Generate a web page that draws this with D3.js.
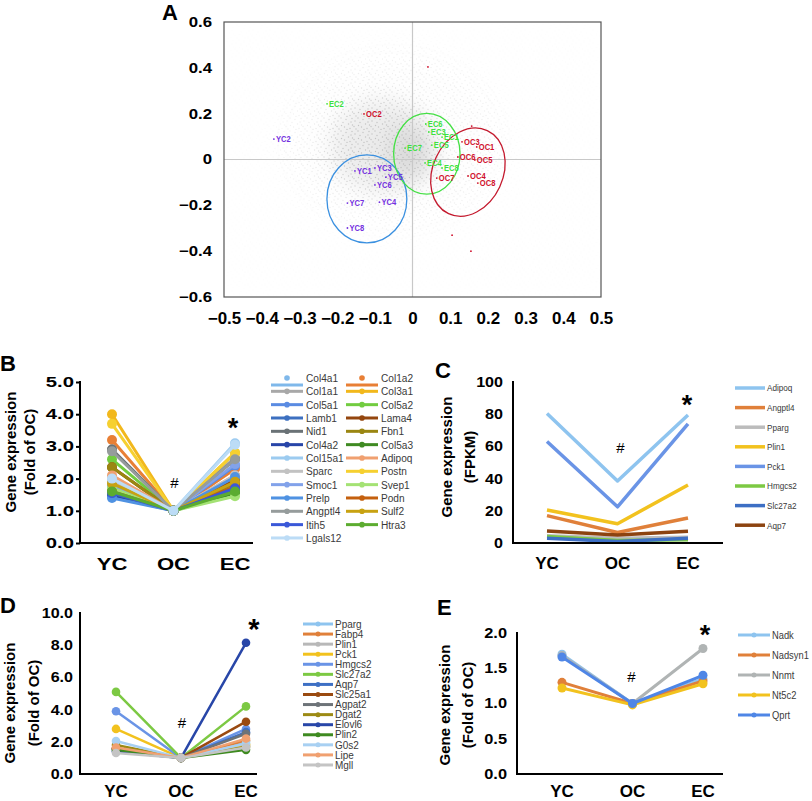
<!doctype html>
<html lang="en">
<head>
<meta charset="utf-8">
<title>PCA and gene expression</title>
<script src="https://cdn.jsdelivr.net/npm/d3@7/dist/d3.min.js"></script>
<style>
  body { margin: 0; background: #fff; }
  svg { display: block; }
  text { font-family: "Liberation Sans", Arial, sans-serif; }
</style>
</head>
<body>
<svg id="fig" width="812" height="801"></svg>
<script>
  //
  // Data
  //

  var groups = ['YC', 'OC', 'EC']

  // panel A: PCA scores (label anchor of each sample)
  var aSamples = ['EC2', 'OC2', 'YC2', 'EC6', 'EC3', 'EC1', 'EC5', 'EC7', 'EC4', 'EC8',
    'OC3', 'OC1', 'OC6', 'OC5', 'OC4', 'OC8', 'OC7',
    'YC1', 'YC3', 'YC5', 'YC6', 'YC7', 'YC4', 'YC8']
  var aX = [-0.224, -0.126, -0.365, 0.038, 0.046, 0.081, 0.054, -0.017, 0.036, 0.081,
    0.134, 0.173, 0.123, 0.168, 0.150, 0.176, 0.067,
    -0.150, -0.097, -0.068, -0.097, -0.170, -0.085, -0.170]
  var aY = [0.243, 0.199, 0.089, 0.155, 0.120, 0.098, 0.063, 0.050, -0.015, -0.037,
    0.077, 0.055, 0.011, -0.002, -0.072, -0.103, -0.081,
    -0.050, -0.037, -0.077, -0.111, -0.190, -0.186, -0.299]
  // stray sample dots without labels
  var aDotX = [0.041, 0.105, 0.155, 0.157]
  var aDotY = [0.404, -0.330, -0.400, 0.146]
  // gene loading cloud, as density blobs
  var cloudX = [-0.050, -0.080, -0.005]
  var cloudY = [0.080, 0.060, 0.030]
  var cloudRx = [0.30, 0.15, 0.07]
  var cloudRy = [0.40, 0.22, 0.14]
  var cloudOp = [0.22, 0.8, 1]
  // group rings
  var ringGroup = ['YC', 'EC', 'OC']
  var ringX = [-0.121, 0.038, 0.147]
  var ringY = [-0.172, 0.025, -0.055]
  var ringRx = [0.106, 0.088, 0.093]
  var ringRy = [0.192, 0.176, 0.200]
  var ringRot = [0, 0, 25]
  var aTicksX = [-0.5, -0.4, -0.3, -0.2, -0.1, 0, 0.1, 0.2, 0.3, 0.4, 0.5]
  var aTicksY = [-0.6, -0.4, -0.2, 0, 0.2, 0.4, 0.6]

  // panel B: matrix genes, fold of OC
  var bGenes = ['Col4a1', 'Col1a2', 'Col1a1', 'Col3a1', 'Col5a1', 'Col5a2', 'Lamb1', 'Lama4',
    'Nid1', 'Fbn1', 'Col4a2', 'Col5a3', 'Col15a1', 'Adipoq', 'Sparc', 'Postn', 'Smoc1', 'Svep1',
    'Prelp', 'Podn', 'Angptl4', 'Sulf2', 'Itih5', 'Htra3', 'Lgals12']
  var bYC = [1.75, 3.2, 2.9, 4.0, 1.45, 2.6, 1.6, 2.35, 2.9, 2.35, 1.5, 1.55, 2.0, 2.1, 1.9,
    3.7, 1.8, 1.7, 1.4, 1.6, 2.85, 1.85, 1.55, 1.6, 2.0]
  var bOC = [1, 1, 1, 1, 1, 1, 1, 1, 1, 1, 1, 1, 1, 1, 1, 1, 1, 1, 1, 1, 1, 1, 1, 1, 1]
  var bEC = [1.9, 2.3, 2.65, 2.8, 2.4, 1.75, 1.7, 1.95, 2.6, 1.85, 1.65, 1.55, 3.1, 2.1, 2.1,
    2.8, 2.45, 1.45, 2.05, 1.75, 2.6, 1.9, 1.7, 1.6, 3.05]
  var bTicks = [0, 1, 2, 3, 4, 5]

  // panel C: FPKM
  var cGenes = ['Adipoq', 'Angptl4', 'Pparg', 'Plin1', 'Pck1', 'Hmgcs2', 'Slc27a2', 'Aqp7']
  var cYC = [80.5, 17, 4.5, 20.5, 63, 4, 3, 7.5]
  var cOC = [38.5, 6.5, 3, 12, 22.5, 1.5, 1, 5]
  var cEC = [79.5, 15.5, 3.5, 36, 74, 2, 3, 7.3]
  var cTicks = [0, 20, 40, 60, 80, 100]

  // panel D: lipid genes, fold of OC
  var dGenes = ['Pparg', 'Fabp4', 'Plin1', 'Pck1', 'Hmgcs2', 'Slc27a2', 'Aqp7', 'Slc25a1',
    'Agpat2', 'Dgat2', 'Elovl6', 'Plin2', 'G0s2', 'Lipe', 'Mgll']
  var dYC = [1.5, 1.6, 1.4, 2.8, 3.9, 5.1, 1.55, 1.6, 1.5, 1.8, 1.4, 1.5, 2.05, 1.65, 1.3]
  var dOC = [1, 1, 1, 1, 1, 1, 1, 1, 1, 1, 1, 1, 1, 1, 1]
  var dEC = [2.0, 2.1, 1.75, 1.85, 2.8, 4.2, 2.6, 3.25, 2.5, 1.7, 8.15, 1.5, 1.9, 2.2, 1.65]
  var dTicks = [0, 2, 4, 6, 8, 10]

  // panel E: NAD genes, fold of OC
  var eGenes = ['Nadk', 'Nadsyn1', 'Nnmt', 'Nt5c2', 'Qprt']
  var eYC = [1.70, 1.30, 1.68, 1.22, 1.66]
  var eOC = [1.0, 1.0, 1.0, 0.98, 1.0]
  var eEC = [1.35, 1.32, 1.78, 1.28, 1.40]
  var eTicks = [0, 0.5, 1, 1.5, 2]

  //
  // Colours
  //

  var groupColor = { YC: '#7330e0', OC: '#d0102c', EC: '#3ee23e' }
  var ringColor = { YC: '#3a90e0', OC: '#c41a2e', EC: '#44e044' }
  var bColors = ['#7fb8ea', '#e87f35', '#a8a8a8', '#f2b81c', '#5a8be2', '#72cc40', '#3d70c0', '#94460e',
    '#6a7276', '#9a8612', '#2845a8', '#3f8a22', '#9ccbf0', '#f0a070', '#c2c2c2', '#f6d030', '#82a2ea', '#a4e274',
    '#4f92e2', '#c4600e', '#969c9c', '#c8a212', '#3a58d8', '#5cac30', '#bcdcf6']
  var cColors = ['#8ec4ef', '#e0803a', '#bcbcbc', '#f2c21e', '#6a94e6', '#7cc943', '#3d6fc4', '#8c4310']
  var dColors = ['#8ec4ef', '#e0803a', '#b8b8b8', '#f2c21e', '#6a94e6', '#7cc943', '#3d6fc4', '#9a4a10',
    '#6d7378', '#9c8a14', '#2846a8', '#3e8a20', '#a8d0f2', '#f0a070', '#c4c4c4']
  var eColors = ['#8ec4ef', '#e0803a', '#b0b4b4', '#f2c21e', '#4f86e6']

  //
  // Helpers
  //

  var svg = d3.select('#fig')
  var defs = svg.append('defs')
  svg.append('rect').attr('width', 812).attr('height', 801).attr('fill', '#fff')

  function txt(g, x, y, s, o) {
    o = o || {}
    return g.append('text')
      .attr('transform', 'translate(' + x + ',' + y + ')' + (o.rot ? ' rotate(' + o.rot + ')' : '') +
        ' scale(' + (o.sx || 1) + ',1)')
      .attr('text-anchor', o.anchor || 'middle')
      .attr('dy', o.dy || null)
      .attr('font-size', o.size || 14)
      .attr('font-weight', o.weight || 'normal')
      .attr('fill', o.fill || '#000')
      .text(s)
  }

  function styleTicks(gax, size, sx) {
    gax.attr('font-family', null).attr('font-size', null)
    gax.select('.domain').remove()
    gax.selectAll('.tick line').attr('stroke', '#000').attr('stroke-width', 2)
    gax.selectAll('.tick text')
      .attr('font-size', size).attr('font-weight', 'bold').attr('fill', '#000')
      .each(function () {
        var t = d3.select(this)
        t.attr('x', +t.attr('x') / sx).attr('transform', 'scale(' + sx + ',1)')
      })
  }

  //
  // Panel A
  //

  var ax = d3.scaleLinear().domain([-0.5, 0.5]).range([224, 601])
  var ay = d3.scaleLinear().domain([-0.6, 0.6]).range([297, 22])
  var kx = ax(1) - ax(0), ky = ay(0) - ay(1)
  var frame = { x: ax(-0.5), y: ay(0.6), w: ax(0.5) - ax(-0.5), h: ay(-0.6) - ay(0.6) }
  var gA = svg.append('g')

  defs.append('clipPath').attr('id', 'clipA').append('rect')
    .attr('x', frame.x).attr('y', frame.y).attr('width', frame.w).attr('height', frame.h)
  defs.append('filter').attr('id', 'blurA')
    .attr('x', '-50%').attr('y', '-50%').attr('width', '200%').attr('height', '200%')
    .append('feGaussianBlur').attr('stdDeviation', 11)

  // speckle texture standing in for the gene points
  var speck = defs.append('pattern').attr('id', 'speck')
    .attr('patternUnits', 'userSpaceOnUse').attr('width', 17).attr('height', 13)
  ;[[1, 1], [6, 2.5], [3, 5.5], [8.5, 7], [4.5, 10], [12, 1.5], [15, 4], [11, 5],
    [14, 9.5], [10, 11.5], [1.5, 8.5], [7, 12.5], [16, 12], [12.5, 8]].forEach(function (p) {
    speck.append('circle').attr('cx', p[0]).attr('cy', p[1]).attr('r', 0.7).attr('fill', '#bcbcbc')
  })

  var mask = defs.append('mask').attr('id', 'cloudMask')
    .attr('maskUnits', 'userSpaceOnUse')
    .attr('x', frame.x).attr('y', frame.y).attr('width', frame.w).attr('height', frame.h)
  var maskG = mask.append('g').attr('filter', 'url(#blurA)')
  maskG.append('rect').attr('x', frame.x).attr('y', frame.y).attr('width', frame.w).attr('height', frame.h)
    .attr('fill', '#fff').attr('opacity', 0.035)
  cloudX.forEach(function (cx, i) {
    maskG.append('ellipse')
      .attr('cx', ax(cx)).attr('cy', ay(cloudY[i]))
      .attr('rx', cloudRx[i] * kx).attr('ry', cloudRy[i] * ky)
      .attr('fill', '#fff').attr('opacity', cloudOp[i])
  })

  var cloudG = gA.append('g').attr('clip-path', 'url(#clipA)')
  var solid = cloudG.append('g').attr('filter', 'url(#blurA)')
  cloudX.forEach(function (cx, i) {
    solid.append('ellipse')
      .attr('cx', ax(cx)).attr('cy', ay(cloudY[i]))
      .attr('rx', cloudRx[i] * kx * 0.9).attr('ry', cloudRy[i] * ky * 0.9)
      .attr('fill', '#d0d0d0').attr('opacity', cloudOp[i] * cloudOp[i] * 0.6)
  })
  cloudG.append('rect').attr('x', frame.x).attr('y', frame.y).attr('width', frame.w).attr('height', frame.h)
    .attr('fill', 'url(#speck)').attr('mask', 'url(#cloudMask)')

  gA.append('line').attr('x1', ax(0)).attr('x2', ax(0)).attr('y1', ay(0.6)).attr('y2', ay(-0.6))
    .attr('stroke', '#c8c8c8').attr('stroke-width', 1.2)
  gA.append('line').attr('x1', ax(-0.5)).attr('x2', ax(0.5)).attr('y1', ay(0)).attr('y2', ay(0))
    .attr('stroke', '#c8c8c8').attr('stroke-width', 1.2)
  gA.append('rect').attr('x', frame.x).attr('y', frame.y).attr('width', frame.w).attr('height', frame.h)
    .attr('fill', 'none').attr('stroke', '#555').attr('stroke-width', 1.2)

  ringGroup.forEach(function (grp, i) {
    gA.append('ellipse')
      .attr('transform', 'translate(' + ax(ringX[i]) + ',' + ay(ringY[i]) + ') rotate(' + ringRot[i] + ')')
      .attr('rx', ringRx[i] * kx).attr('ry', ringRy[i] * ky)
      .attr('fill', 'none').attr('stroke', ringColor[grp]).attr('stroke-width', 1.3)
  })

  aDotX.forEach(function (x, i) {
    gA.append('circle').attr('cx', ax(x)).attr('cy', ay(aDotY[i])).attr('r', 0.9).attr('fill', '#d0102c')
  })

  aSamples.forEach(function (s, i) {
    var c = groupColor[s.slice(0, 2)]
    gA.append('circle').attr('cx', ax(aX[i]) - 1).attr('cy', ay(aY[i])).attr('r', 0.9).attr('fill', c)
    txt(gA, ax(aX[i]) + 1, ay(aY[i]), s,
      { anchor: 'start', dy: '0.35em', size: 9.5, sx: 0.8, weight: 'bold', fill: c })
  })

  var fmtA = function (d) { return d === 0 ? '0' : d3.format('.1f')(d) }
  var gAy = gA.append('g').attr('transform', 'translate(' + ax(-0.5) + ',0)')
    .call(d3.axisLeft(ay).tickValues(aTicksY).tickSize(0).tickPadding(12).tickFormat(fmtA))
  styleTicks(gAy, 14, 1.2)
  var gAx = gA.append('g').attr('transform', 'translate(0,' + ay(-0.6) + ')')
    .call(d3.axisBottom(ax).tickValues(aTicksX).tickSize(0).tickPadding(16).tickFormat(fmtA))
  styleTicks(gAx, 16, 1.06)

  txt(svg, 162, 20, 'A', { anchor: 'start', size: 22, weight: 'bold' })

  //
  // Panels B - E
  //

  function linePanel(o) {
    var x = d3.scalePoint().domain(groups).range(o.xr)
    var y = d3.scaleLinear().domain(o.yd).range(o.yr)
    var g = svg.append('g')
    var line = d3.line()
      .x(function (d, i) { return x(groups[i]) })
      .y(function (d) { return y(d) })

    o.genes.forEach(function (name, k) {
      var v = [o.yc[k], o.oc[k], o.ec[k]]
      g.append('path').datum(v).attr('d', line)
        .attr('fill', 'none').attr('stroke', o.colors[k]).attr('stroke-width', o.lw)
        .attr('stroke-linejoin', 'round')
      if (o.r) {
        g.selectAll(null).data(v).join('circle')
          .attr('cx', function (d, i) { return x(groups[i]) })
          .attr('cy', function (d) { return y(d) })
          .attr('r', o.r).attr('fill', o.colors[k])
      }
    })

    // axes
    var gy = g.append('g').attr('transform', 'translate(' + o.x0 + ',0)')
      .call(d3.axisLeft(y).tickValues(o.ticks).tickFormat(d3.format(o.fmt))
        .tickSize(o.tick).tickPadding(o.pad))
    styleTicks(gy, o.tickFont, o.tickSx)
    g.append('line').attr('x1', o.x0).attr('x2', o.x0).attr('y1', o.yr[1] - 1).attr('y2', o.yr[0] + 1)
      .attr('stroke', '#000').attr('stroke-width', 2)
    g.append('line').attr('x1', o.x0 - 1).attr('x2', o.x1).attr('y1', o.yr[0]).attr('y2', o.yr[0])
      .attr('stroke', '#000').attr('stroke-width', 2)

    groups.forEach(function (c) {
      txt(g, x(c), o.catY, c, { size: 17, weight: 'bold', sx: o.catSx })
    })

    // y title
    txt(g, o.titleX[0], o.titleY, 'Gene expression', { rot: -90, size: 15, weight: 'bold', dy: '0.35em' })
    txt(g, o.titleX[1], o.titleY, o.unit, { rot: -90, size: 15, weight: 'bold', dy: '0.35em' })

    // significance marks
    txt(g, x('OC') + o.hashDx, y(o.hashY) + 0.35 * 15, '#', { size: 15 })
    txt(g, x('EC') + o.starDx, y(o.starY) + 0.575 * o.starSize, '*', { size: o.starSize, weight: 'bold' })

    // legend
    var L = o.legend
    o.genes.forEach(function (name, k) {
      var col = k % L.ncol, row = Math.floor(k / L.ncol)
      var cx = L.cols[col], ly = L.y0 + row * L.dy
      var ln = (L.splitFirst && row === 0) ? ly + 7 : ly
      g.append('line').attr('x1', cx[0]).attr('x2', cx[1]).attr('y1', ln).attr('y2', ln)
        .attr('stroke', o.colors[k]).attr('stroke-width', L.lw)
      if (L.r) {
        g.append('circle').attr('cx', (cx[0] + cx[1]) / 2).attr('cy', ly).attr('r', L.r)
          .attr('fill', o.colors[k])
      }
      txt(g, cx[2], ly, name, { anchor: 'start', dy: '0.35em', size: L.size, sx: L.sx, fill: '#3a3a3a' })
    })

    txt(svg, o.letter[1], o.letter[2], o.letter[0], { anchor: 'start', size: 22, weight: 'bold' })
  }

  linePanel({
    genes: bGenes, yc: bYC, oc: bOC, ec: bEC, colors: bColors,
    xr: [112, 235], yd: [0, 5], yr: [543, 382], x0: 80, x1: 253,
    ticks: bTicks, fmt: '.1f', tick: 4, pad: 2, tickFont: 14, tickSx: 1.45,
    lw: 3, r: 5, catY: 570, catSx: 1.3,
    titleX: [11, 30], titleY: 452, unit: '(Fold of OC)',
    hashY: 1.86, hashDx: 1, starY: 3.76, starDx: -2, starSize: 27,
    legend: { ncol: 2, cols: [[271, 303, 306], [346, 378, 381]], y0: 378, dy: 13.33,
      lw: 3, r: 2.8, size: 11.5, sx: 0.88, splitFirst: true },
    letter: ['B', 0, 371]
  })

  linePanel({
    genes: cGenes, yc: cYC, oc: cOC, ec: cEC, colors: cColors,
    xr: [547, 688], yd: [0, 100], yr: [543, 382], x0: 513, x1: 723,
    ticks: cTicks, fmt: 'd', tick: 0, pad: 10, tickFont: 14, tickSx: 1.15,
    lw: 3.5, r: 0, catY: 569, catSx: 1,
    titleX: [447, 470], titleY: 457, unit: '(FPKM)',
    hashY: 59, hashDx: 3, starY: 90, starDx: -1, starSize: 27,
    legend: { ncol: 1, cols: [[735, 765, 767]], y0: 388, dy: 19.6,
      lw: 3.5, r: 0, size: 9.5, sx: 0.86 },
    letter: ['C', 435, 378]
  })

  linePanel({
    genes: dGenes, yc: dYC, oc: dOC, ec: dEC, colors: dColors,
    xr: [116, 246], yd: [0, 10], yr: [774, 613], x0: 80, x1: 257,
    ticks: dTicks, fmt: '.1f', tick: 0, pad: 7, tickFont: 14, tickSx: 1.15,
    lw: 2.5, r: 4.3, catY: 797, catSx: 1,
    titleX: [10, 34], titleY: 703, unit: '(Fold of OC)',
    hashY: 3.2, hashDx: 1, starY: 9.4, starDx: 8, starSize: 29,
    legend: { ncol: 1, cols: [[303, 333, 335]], y0: 624, dy: 10.07,
      lw: 3, r: 2.5, size: 10.5, sx: 0.95 },
    letter: ['D', 0, 613]
  })

  linePanel({
    genes: eGenes, yc: eYC, oc: eOC, ec: eEC, colors: eColors,
    xr: [562, 703], yd: [0, 2], yr: [774, 633], x0: 517, x1: 723,
    ticks: eTicks, fmt: '.1f', tick: 0, pad: 10, tickFont: 14, tickSx: 1.17,
    lw: 3, r: 4.5, catY: 797, catSx: 1,
    titleX: [445, 468], titleY: 705, unit: '(Fold of OC)',
    hashY: 1.38, hashDx: -1, starY: 2.07, starDx: 2, starSize: 27,
    legend: { ncol: 1, cols: [[738, 770, 772]], y0: 635, dy: 20,
      lw: 3, r: 2.5, size: 11, sx: 0.85 },
    letter: ['E', 437, 615]
  })
</script>
</body>
</html>
